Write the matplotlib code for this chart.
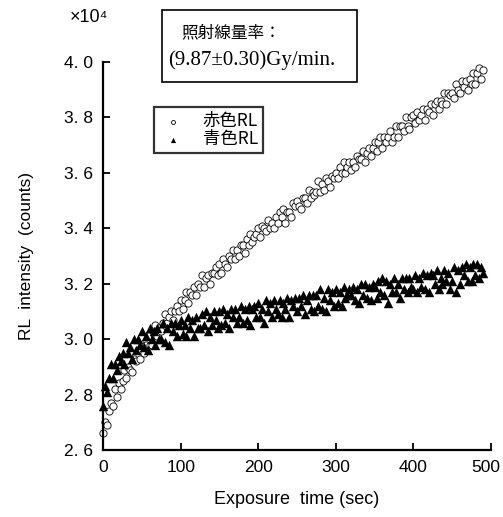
import matplotlib
matplotlib.use('Agg')
import matplotlib.pyplot as plt
import matplotlib.transforms as mtransforms
from matplotlib.patches import Rectangle
from matplotlib.ticker import FixedLocator, FuncFormatter

# sample times (sec), one reading every 2.5 s
times = [i * 2.5 for i in range(197)]

# 赤色RL intensity (x10^4 counts), rows of 25 s
red_rl = [2.66, 2.70, 2.69, 2.74, 2.77, 2.76, 2.82, 2.79, 2.84, 2.82,
          2.85, 2.89, 2.86, 2.90, 2.89, 2.88, 2.93, 2.92, 2.96, 2.93,
          2.98, 2.95, 2.98, 3.01, 2.98, 2.98, 3.02, 3.05, 3.01, 3.04,
          3.03, 3.06, 3.09, 3.06, 3.08, 3.10, 3.07, 3.10, 3.12, 3.10,
          3.14, 3.11, 3.14, 3.17, 3.13, 3.17, 3.16, 3.19, 3.16, 3.20,
          3.19, 3.23, 3.19, 3.22, 3.23, 3.20, 3.24, 3.24, 3.26, 3.23,
          3.27, 3.24, 3.29, 3.27, 3.26, 3.30, 3.29, 3.32, 3.29, 3.32,
          3.30, 3.34, 3.34, 3.31, 3.36, 3.34, 3.38, 3.35, 3.37, 3.38,
          3.40, 3.37, 3.41, 3.40, 3.39, 3.43, 3.40, 3.42, 3.40, 3.44,
          3.42, 3.46, 3.44, 3.47, 3.42, 3.46, 3.46, 3.44, 3.49, 3.48,
          3.50, 3.48, 3.47, 3.51, 3.51, 3.49, 3.54, 3.51, 3.53, 3.52,
          3.53, 3.57, 3.53, 3.56, 3.54, 3.58, 3.57, 3.55, 3.59, 3.58,
          3.60, 3.58, 3.62, 3.60, 3.64, 3.60, 3.62, 3.64, 3.61, 3.64,
          3.62, 3.66, 3.65, 3.65, 3.68, 3.64, 3.67, 3.69, 3.66, 3.69,
          3.71, 3.68, 3.71, 3.73, 3.69, 3.73, 3.71, 3.73, 3.75, 3.71,
          3.73, 3.77, 3.73, 3.77, 3.77, 3.75, 3.80, 3.77, 3.76, 3.80,
          3.81, 3.78, 3.82, 3.79, 3.81, 3.83, 3.79, 3.83, 3.82, 3.85,
          3.81, 3.85, 3.86, 3.83, 3.86, 3.85, 3.89, 3.85, 3.89, 3.88,
          3.89, 3.87, 3.92, 3.90, 3.89, 3.93, 3.91, 3.93, 3.90, 3.94,
          3.92, 3.96, 3.92, 3.96, 3.98, 3.94, 3.97]

# 青色RL intensity (x10^4 counts), rows of 25 s
blue_rl = [2.76, 2.83, 2.81, 2.86, 2.91, 2.86, 2.91, 2.89, 2.94, 2.92,
           2.95, 2.91, 2.99, 2.95, 2.97, 2.93, 3.00, 2.96, 3.00, 2.98,
           3.03, 2.97, 3.01, 2.96, 3.04, 3.00, 3.03, 2.98, 3.04, 3.00,
           3.00, 3.06, 2.99, 3.04, 2.98, 3.06, 3.03, 3.06, 3.01, 3.05,
           3.07, 3.02, 3.05, 3.01, 3.08, 3.04, 3.07, 3.01, 3.08, 3.04,
           3.04, 3.09, 3.05, 3.10, 3.03, 3.08, 3.05, 3.10, 3.07, 3.04,
           3.10, 3.05, 3.11, 3.06, 3.09, 3.04, 3.11, 3.08, 3.11, 3.06,
           3.08, 3.12, 3.06, 3.11, 3.07, 3.12, 3.05, 3.11, 3.12, 3.08,
           3.13, 3.08, 3.11, 3.06, 3.14, 3.10, 3.13, 3.08, 3.14, 3.11,
           3.09, 3.14, 3.08, 3.13, 3.11, 3.15, 3.08, 3.14, 3.12, 3.15,
           3.10, 3.15, 3.12, 3.16, 3.09, 3.14, 3.16, 3.11, 3.16, 3.10,
           3.16, 3.12, 3.18, 3.11, 3.15, 3.10, 3.18, 3.14, 3.17, 3.12,
           3.18, 3.13, 3.17, 3.12, 3.19, 3.15, 3.16, 3.18, 3.16, 3.19,
           3.14, 3.18, 3.13, 3.20, 3.16, 3.20, 3.15, 3.19, 3.14, 3.20,
           3.19, 3.15, 3.21, 3.17, 3.22, 3.16, 3.21, 3.13, 3.20, 3.17,
           3.22, 3.17, 3.20, 3.15, 3.22, 3.18, 3.22, 3.17, 3.22, 3.19,
           3.18, 3.23, 3.17, 3.22, 3.19, 3.24, 3.18, 3.23, 3.17, 3.24,
           3.23, 3.20, 3.25, 3.18, 3.22, 3.20, 3.25, 3.21, 3.24, 3.18,
           3.21, 3.26, 3.17, 3.25, 3.20, 3.26, 3.23, 3.27, 3.21, 3.26,
           3.21, 3.27, 3.23, 3.27, 3.22, 3.26, 3.24]

y_ticks = [2.6, 2.8, 3.0, 3.2, 3.4, 3.6, 3.8, 4.0]
x_ticks = [0, 100, 200, 300, 400, 500]

sans = ['Liberation Sans', 'DejaVu Sans']
serif_jp = ['Liberation Serif', 'Noto Sans CJK JP']
gothic_jp = ['Noto Sans CJK JP', 'DejaVu Sans']

fig = plt.figure(figsize=(5.03, 5.17), dpi=100)
ax = fig.add_axes([0.205, 0.1296, 0.771, 0.7504])

red = ax.scatter(times, red_rl, marker='o', s=27, facecolors='white',
                 edgecolors='black', linewidths=0.6, clip_on=False, zorder=2)
blue = ax.scatter(times, blue_rl, marker='^', s=46, color='black',
                  linewidths=0, clip_on=False, zorder=3)

ax.set_xlim(0, 500)
ax.set_ylim(2.6, 4.0)
ax.spines['top'].set_visible(False)
ax.spines['right'].set_visible(False)
for sp in ['left', 'bottom']:
    ax.spines[sp].set_linewidth(1.6)

ax.xaxis.set_major_locator(FixedLocator(x_ticks))
ax.yaxis.set_major_locator(FixedLocator(y_ticks))
ax.yaxis.set_major_formatter(FuncFormatter(lambda v, p: f'{v:.1f}'.replace('.', '. ')))
ax.tick_params(direction='in', length=5, width=1.3, pad=7)
for lab in ax.get_xticklabels() + ax.get_yticklabels():
    lab.set_family(sans)
    lab.set_fontsize(12.5)

# last x label sits on the right edge of the figure; nudge it inside
last = ax.get_xticklabels()[-1]
last.set_transform(last.get_transform() +
                   mtransforms.ScaledTranslation(-5 / 100, 0, fig.dpi_scale_trans))

ax.set_xlabel('Exposure  time (sec)', family=sans, fontsize=13, labelpad=12)
ax.set_ylabel('RL  intensity  (counts)', family=sans, fontsize=12.5, labelpad=22)

fig.text(70 / 503, 1 - 17 / 517, '×10⁴', family=sans, fontsize=13,
         ha='left', va='center')

# dose-rate box
fig.patches.append(Rectangle((162 / 503, 1 - 82 / 517), 195 / 503, 72 / 517,
                             transform=fig.transFigure, fill=False,
                             edgecolor='black', linewidth=1.2))
fig.text(181 / 503, 1 - 33 / 517, '照射線量率：', family=gothic_jp, fontsize=12,
         ha='left', va='center')
fig.text(168 / 503, 1 - 60 / 517, '(9.87±0.30)Gy/min.', family=serif_jp,
         fontsize=15, ha='left', va='center')

leg = ax.legend([red, blue], ['赤色RL', '青色RL'], loc='upper left',
                bbox_to_anchor=(154 / 503, 1 - 107 / 517),
                bbox_transform=fig.transFigure, frameon=True, fancybox=False,
                prop={'family': gothic_jp, 'size': 12.5}, handletextpad=0.9,
                borderpad=0.3, labelspacing=0.0, markerscale=0.55,
                handlelength=1.6, borderaxespad=0)
leg.get_frame().set_edgecolor('black')
leg.get_frame().set_linewidth(1.6)

fig.savefig('out.png', dpi=100)
